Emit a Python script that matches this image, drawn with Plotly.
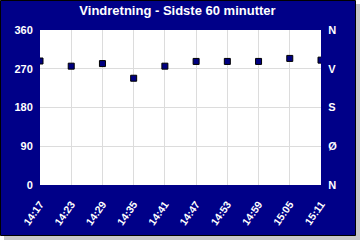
import plotly.graph_objects as go

times = ["2024-01-01 14:17:00", "2024-01-01 14:23:00", "2024-01-01 14:29:00",
         "2024-01-01 14:35:00", "2024-01-01 14:41:00", "2024-01-01 14:47:00",
         "2024-01-01 14:53:00", "2024-01-01 14:59:00", "2024-01-01 15:05:00",
         "2024-01-01 15:11:00"]
direction = [288, 276, 282, 248, 276, 287, 287, 287, 294, 290]
left_ticks = [0, 90, 180, 270, 360]
left_labels = ["0", "90", "180", "270", "360"]
right_labels = ["N", "Ø", "S", "V", "N"]
title = "Vindretning - Sidste 60 minutter"

NAVY = "#000088"
GRID = "#dcdcdc"
FONT = "Liberation Sans, Arial, sans-serif"

fig = go.Figure()
fig.add_trace(go.Scatter(
    x=times, y=direction, mode="markers",
    marker=dict(symbol="square", size=6, color="#000080",
                line=dict(color="black", width=1)),
    cliponaxis=True, hoverinfo="skip", showlegend=False))
fig.add_trace(go.Scatter(
    x=[times[0]], y=[0], yaxis="y2", mode="markers",
    marker=dict(opacity=0), hoverinfo="skip", showlegend=False))

shapes = [
    dict(type="rect", xref="paper", yref="paper", xsizemode="pixel", ysizemode="pixel",
         xanchor=0, yanchor=0, x0=-36, x1=320, y0=-55, y1=181,
         fillcolor="#c8c8c8", line=dict(width=0), layer="below"),
    dict(type="rect", xref="paper", yref="paper", xsizemode="pixel", ysizemode="pixel",
         xanchor=0, yanchor=0, x0=-39.5, x1=315.5, y0=-50.5, y1=184.5,
         fillcolor=NAVY, line=dict(color="black", width=1), layer="below"),
    dict(type="rect", xref="paper", yref="paper", x0=0, x1=1, y0=0, y1=1,
         fillcolor="white", line=dict(width=0), layer="below"),
]

fig.update_layout(
    width=360, height=240,
    margin=dict(l=40, r=39, t=30, b=55),
    paper_bgcolor="white", plot_bgcolor="white",
    shapes=shapes,
    title=dict(text=title, x=0.493, xref="container", xanchor="center",
               y=1 - 10.5 / 240, yref="container", yanchor="middle",
               font=dict(family=FONT, size=13, color="white", weight="bold")),
    xaxis=dict(type="date", range=[times[0], times[-1]],
               tick0=times[0], dtick=6 * 60 * 1000, tickformat="%H:%M",
               tickangle=-55, showgrid=True, gridcolor=GRID, gridwidth=1,
               zeroline=False, showline=False,
               ticks="outside", ticklen=8, tickcolor=NAVY,
               tickfont=dict(family=FONT, size=10.5, color="white", weight="bold")),
    yaxis=dict(range=[0, 360], tickvals=left_ticks, ticktext=left_labels,
               showgrid=True, gridcolor=GRID, zeroline=False, showline=False,
               ticks="outside", ticklen=4, tickcolor=NAVY,
               tickfont=dict(family=FONT, size=11, color="white", weight="bold")),
    yaxis2=dict(range=[0, 360], tickvals=left_ticks, ticktext=right_labels,
                overlaying="y", side="right", showgrid=False, zeroline=False,
                ticks="outside", ticklen=4, tickcolor=NAVY,
                tickfont=dict(family=FONT, size=11, color="white", weight="bold")),
)

fig.write_html("out.html")
